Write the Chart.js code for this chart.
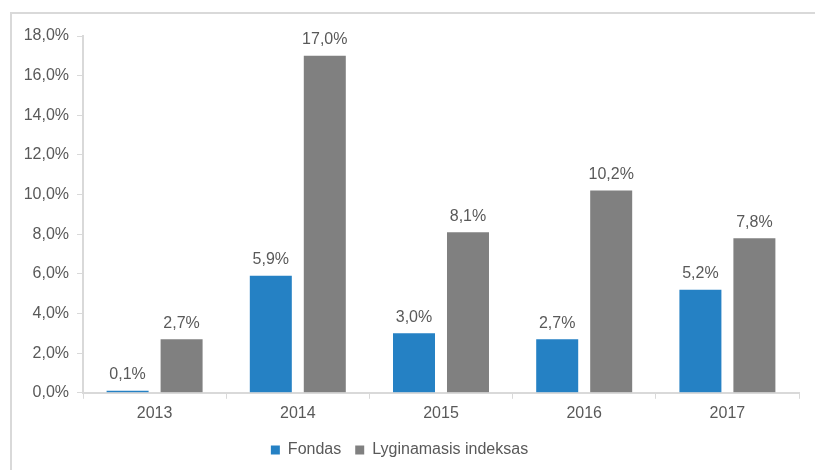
<!DOCTYPE html>
<html>
<head>
<meta charset="utf-8">
<script src="https://cdn.jsdelivr.net/npm/chart.js@4"></script>
<style>
  body { margin: 0; background: #fff; }
  #wrap { position: relative; width: 815px; height: 470px; }
  #frame { position: absolute; left: 10px; top: 12px; right: 0; bottom: 0;
           border-top: 2px solid #d9d9d9; border-left: 2px solid #d9d9d9; }
  canvas { position: absolute; left: 0; top: 0; }
</style>
</head>
<body>
<div id="wrap">
  <div id="frame"></div>
  <canvas id="barChart" width="815" height="470"></canvas>
</div>
<script>
const years = ['2013', '2014', '2015', '2016', '2017'];
const fondas = [0.1, 5.9, 3.0, 2.7, 5.2];
const indeksas = [2.7, 17.0, 8.1, 10.2, 7.8];
const yTicks = [0, 2, 4, 6, 8, 10, 12, 14, 16, 18];

const pct = v => v.toFixed(1).replace('.', ',') + '%';

// labels above each bar
const barLabels = {
  id: 'barLabels',
  afterDatasetsDraw(chart) {
    const ctx = chart.ctx;
    ctx.save();
    ctx.font = '16px "Liberation Sans", Arial, sans-serif';
    ctx.fillStyle = '#595959';
    ctx.textAlign = 'center';
    ctx.textBaseline = 'bottom';
    chart.data.datasets.forEach((ds, i) => {
      chart.getDatasetMeta(i).data.forEach((bar, j) => {
        ctx.fillText(pct(ds.data[j]), bar.x, bar.y - 8);
      });
    });
    ctx.restore();
  }
};

Chart.defaults.font.family = '"Liberation Sans", Arial, sans-serif';
Chart.defaults.font.size = 16;
Chart.defaults.color = '#595959';

const ctxBar = document.getElementById('barChart').getContext('2d');
const barChart = new Chart(ctxBar, {
  type: 'bar',
  data: {
    labels: years,
    datasets: [{
      label: 'Fondas',
      data: fondas,
      backgroundColor: '#2581c4',
      categoryPercentage: 0.754,
      barPercentage: 0.778
    }, {
      label: 'Lyginamasis indeksas',
      data: indeksas,
      backgroundColor: '#808080',
      categoryPercentage: 0.754,
      barPercentage: 0.778
    }]
  },
  plugins: [barLabels],
  options: {
    responsive: false,
    animation: false,
    layout: {
      padding: { left: 0, right: 16, top: 36, bottom: 2 }
    },
    plugins: {
      legend: {
        position: 'bottom',
        labels: {
          boxWidth: 9,
          boxHeight: 9,
          padding: 14,
          color: '#595959'
        }
      },
      tooltip: { enabled: false }
    },
    scales: {
      x: {
        grid: {
          display: true,
          drawOnChartArea: false,
          tickLength: 6,
          color: '#d9d9d9'
        },
        border: { color: '#d9d9d9', width: 2 },
        ticks: { padding: 5 }
      },
      y: {
        min: 0,
        max: 18,
        afterBuildTicks: axis => { axis.ticks = yTicks.map(v => ({ value: v })); },
        afterFit: axis => { axis.width = 83; },
        grid: {
          display: true,
          drawOnChartArea: false,
          tickLength: 6,
          color: '#d9d9d9'
        },
        border: { color: '#d9d9d9', width: 2 },
        ticks: {
          padding: 8,
          callback: v => pct(v)
        }
      }
    }
  }
});
</script>
</body>
</html>
